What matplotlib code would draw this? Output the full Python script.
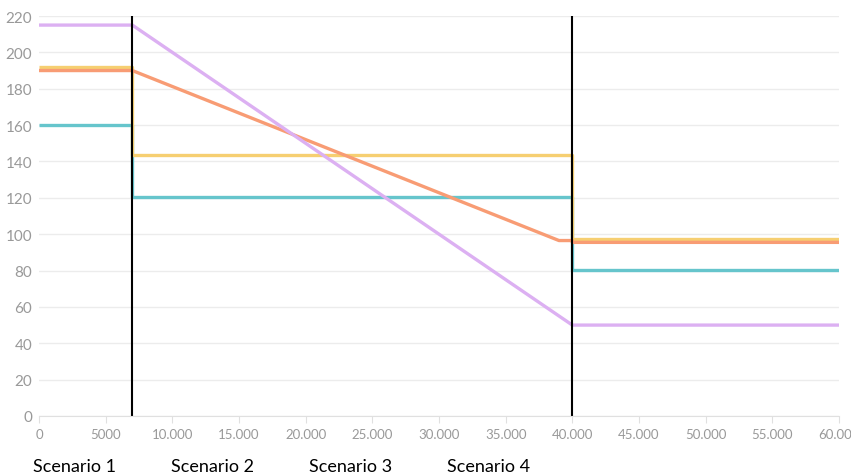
import matplotlib.pyplot as plt
from matplotlib.ticker import FuncFormatter

plt.rcParams['font.family'] = ['Lato', 'DejaVu Sans']

# series (x, y)
purple_x = [0, 7000, 40000, 60000]
purple_y = [215, 215, 50, 50]
orange_x = [0, 7000, 39000, 40000, 40000, 60000]
orange_y = [190, 190, 96.5, 96.5, 95.5, 95.5]
yellow_x = [0, 7000, 7000, 40000, 40000, 60000]
yellow_y = [192, 192, 143.5, 143.5, 97.5, 97.5]
teal_x = [0, 7000, 7000, 40000, 40000, 60000]
teal_y = [160, 160, 120.5, 120.5, 80.5, 80.5]
breaks = [7000, 40000]
scenarios = ["Scenario 1", "Scenario 2", "Scenario 3", "Scenario 4"]

fig = plt.figure(figsize=(8.51, 4.77), dpi=100)
ax = fig.add_axes([39/851, 60/477, 800/851, 400/477])

ax.set_xlim(0, 60000)
ax.set_ylim(0, 220)
ax.set_yticks(range(0, 221, 20))
ax.set_xticks(range(0, 60001, 5000))
ax.grid(axis='y', color='#ececec', lw=1)
ax.set_axisbelow(True)

ax.plot(teal_x, teal_y, color='#66c5cc', lw=2.4, solid_capstyle='butt')
ax.plot(yellow_x, yellow_y, color='#f6cf71', lw=2.4, solid_capstyle='butt')
ax.plot(orange_x, orange_y, color='#f89c74', lw=2.4, solid_capstyle='butt')
ax.plot(purple_x, purple_y, color='#dcb0f2', lw=2.4, solid_capstyle='butt')
for b in breaks:
    ax.axvline(b, color='black', lw=1.5)

def fmt(v, pos):
    v = int(v)
    if v >= 10000:
        return f"{v:,}".replace(",", ".")
    return str(v)
ax.xaxis.set_major_formatter(FuncFormatter(fmt))

for s in ['top', 'right', 'left']:
    ax.spines[s].set_visible(False)
ax.spines['bottom'].set_color('#e0e0e0')
ax.tick_params(axis='y', length=0, labelsize=11, labelcolor='#999999', pad=5)
ax.tick_params(axis='x', length=5, color='#e0e0e0', labelsize=9.5, labelcolor='#999999', pad=4)

for i, s in enumerate(scenarios):
    fig.text((33 + 138*i)/851, 1 - 467/477, s, fontsize=13, color='black', ha='left', va='center')

fig.savefig("out.png", dpi=100)
